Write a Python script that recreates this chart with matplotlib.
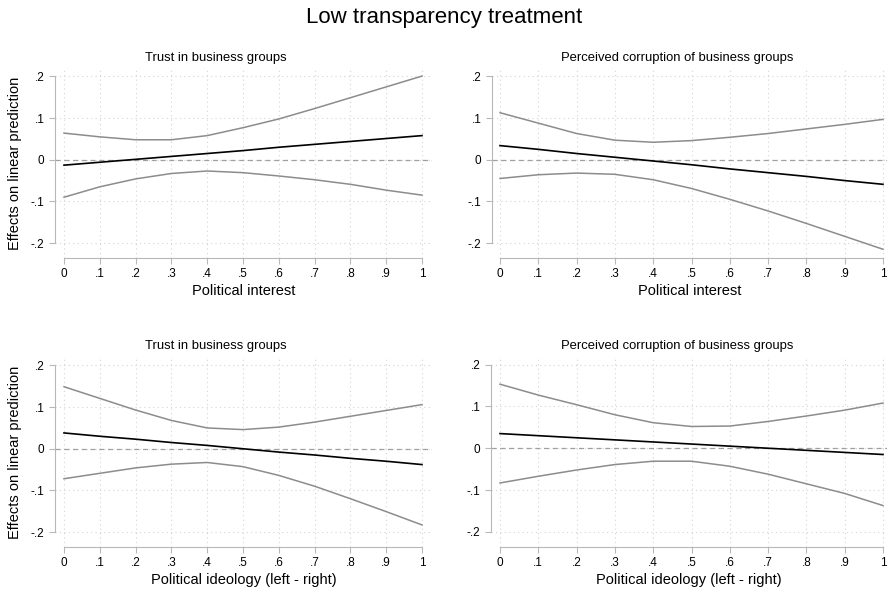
import matplotlib
matplotlib.use("Agg")
import matplotlib.pyplot as plt

plt.rcParams['font.family'] = ['Liberation Sans', 'DejaVu Sans']

x_vals = [0, 0.1, 0.2, 0.3, 0.4, 0.5, 0.6, 0.7, 0.8, 0.9, 1.0]
x_ticks = [0, 0.1, 0.2, 0.3, 0.4, 0.5, 0.6, 0.7, 0.8, 0.9, 1.0]
x_ticklabels = ["0", ".1", ".2", ".3", ".4", ".5", ".6", ".7", ".8", ".9", "1"]
y_ticks = [-0.2, -0.1, 0, 0.1, 0.2]
y_ticklabels = ["-.2", "-.1", "0", ".1", ".2"]

titles = ["Trust in business groups", "Perceived corruption of business groups",
          "Trust in business groups", "Perceived corruption of business groups"]
xlabels = ["Political interest", "Political interest",
           "Political ideology (left - right)", "Political ideology (left - right)"]

# trust / interest
upper1 = [0.064, 0.055, 0.048, 0.048, 0.058, 0.077, 0.098, 0.123, 0.149, 0.175, 0.201]
mean1 = [-0.013, -0.006, 0.001, 0.008, 0.015, 0.022, 0.030, 0.037, 0.044, 0.051, 0.058]
lower1 = [-0.090, -0.065, -0.046, -0.033, -0.027, -0.031, -0.039, -0.048, -0.059, -0.073, -0.085]

# corruption / interest
upper2 = [0.113, 0.088, 0.063, 0.047, 0.042, 0.046, 0.054, 0.063, 0.074, 0.085, 0.097]
mean2 = [0.034, 0.025, 0.015, 0.006, -0.003, -0.012, -0.022, -0.031, -0.040, -0.050, -0.059]
lower2 = [-0.045, -0.036, -0.032, -0.035, -0.048, -0.069, -0.095, -0.123, -0.153, -0.184, -0.215]

# trust / ideology
upper3 = [0.149, 0.121, 0.093, 0.068, 0.050, 0.046, 0.052, 0.064, 0.078, 0.092, 0.106]
mean3 = [0.038, 0.030, 0.023, 0.015, 0.008, 0.000, -0.008, -0.015, -0.023, -0.030, -0.038]
lower3 = [-0.072, -0.059, -0.046, -0.037, -0.033, -0.043, -0.064, -0.090, -0.120, -0.151, -0.183]

# corruption / ideology
upper4 = [0.153, 0.127, 0.104, 0.080, 0.061, 0.052, 0.053, 0.064, 0.077, 0.091, 0.108]
mean4 = [0.035, 0.030, 0.025, 0.020, 0.015, 0.010, 0.005, 0.000, -0.005, -0.010, -0.015]
lower4 = [-0.083, -0.067, -0.052, -0.039, -0.031, -0.031, -0.043, -0.062, -0.085, -0.108, -0.137]

uppers = [upper1, upper2, upper3, upper4]
means = [mean1, mean2, mean3, mean4]
lowers = [lower1, lower2, lower3, lower4]

W, H = 889, 590
fig = plt.figure(figsize=(W / 100, H / 100), dpi=100)

# panel boxes in pixels: left, right, top, bottom, x0 pixel, x1 pixel, title centre x, title y
boxes = [(55, 432, 69, 258, 64, 422, 216, 58),
         (492, 887, 69, 258, 500, 883, 677, 58),
         (55, 432, 358, 547, 64, 422, 216, 346),
         (491, 887, 357, 547, 500, 883, 677, 346)]

for i in range(4):
    left, right, top, bottom, x0, x1, tx, ty = boxes[i]
    ax = fig.add_axes([left / W, 1 - bottom / H, (right - left) / W, (bottom - top) / H])
    ppu = x1 - x0
    ax.set_xlim((left - x0) / ppu, (right - x0) / ppu)
    ax.set_ylim(-0.236, 0.218)

    for t in x_ticks:
        ax.axvline(t, color="#d4d4d4", lw=0.8, ls=(0, (1, 3)), zorder=0)
    for t in y_ticks:
        ax.axhline(t, color="#d4d4d4", lw=0.8, ls=(0, (1, 3)), zorder=0)

    ax.axhline(0, color="#a0a0a0", lw=0.9, ls=(0, (4, 3)), zorder=1)
    ax.plot(x_vals, uppers[i], color="#8c8c8c", lw=1.1, zorder=2)
    ax.plot(x_vals, lowers[i], color="#8c8c8c", lw=1.1, zorder=2)
    ax.plot(x_vals, means[i], color="black", lw=1.2, zorder=3)

    for s in ["top", "right"]:
        ax.spines[s].set_visible(False)
    ax.spines["left"].set_bounds(-0.2, 0.2)
    ax.spines["bottom"].set_bounds(0, 1)
    ax.spines["left"].set_color("#b8b8b8")
    ax.spines["bottom"].set_color("#b8b8b8")

    ax.set_xticks(x_ticks)
    ax.set_xticklabels(x_ticklabels)
    ax.set_yticks(y_ticks)
    ax.set_yticklabels(y_ticklabels)
    ax.tick_params(colors="#b8b8b8", labelcolor="black", labelsize=8.5, length=4, width=0.8)
    ax.tick_params(axis="x", pad=3)
    ax.set_facecolor("white")

    fig.text(tx / W, 1 - ty / H, titles[i], ha="center", va="center", fontsize=9.4)
    ax.set_xlabel(xlabels[i], fontsize=10.5, labelpad=3)
    if i % 2 == 0:
        ax.set_ylabel("Effects on linear prediction", fontsize=10.5, labelpad=6)

fig.text(0.5, 1 - 18 / H, "Low transparency treatment", ha="center", va="center", fontsize=16)

fig.savefig("out.png", dpi=100)
